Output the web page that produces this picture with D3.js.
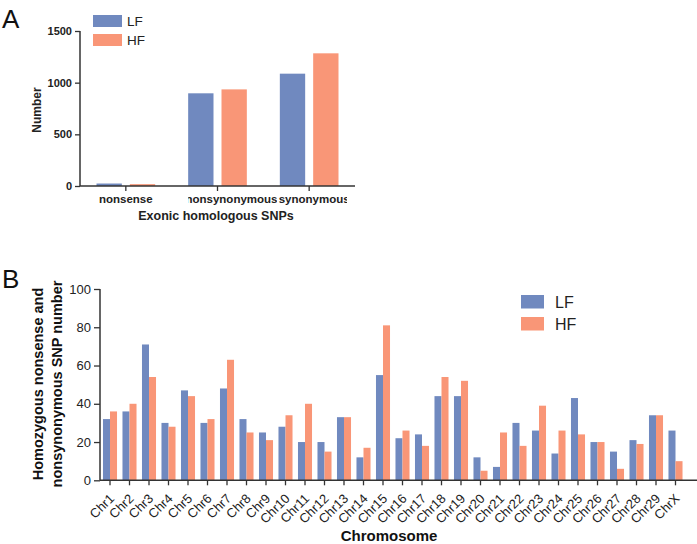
<!DOCTYPE html>
<html><head><meta charset="utf-8">
<script src="https://cdn.jsdelivr.net/npm/d3@7"></script>
<style>body{margin:0;background:#fff}svg{display:block}text{font-family:"Liberation Sans",Arial,sans-serif}</style>
</head><body><svg id="c" width="697" height="544"></svg>
<script>
const series = ["LF", "HF"];
const colors = ["#7089bf", "#f99677"];
// Panel A
const catsA = ["nonsense", "nonsynonymous", "synonymous"];
const lfA = [24, 897, 1087];
const hfA = [18, 935, 1284];
const ticksA = [0, 500, 1000, 1500];
// Panel B
const chrs = ["Chr1","Chr2","Chr3","Chr4","Chr5","Chr6","Chr7","Chr8","Chr9","Chr10","Chr11","Chr12","Chr13","Chr14","Chr15","Chr16","Chr17","Chr18","Chr19","Chr20","Chr21","Chr22","Chr23","Chr24","Chr25","Chr26","Chr27","Chr28","Chr29","ChrX"];
const lfB = [32,36,71,30,47,30,48,32,25,28,20,20,33,12,55,22,24,44,44,12,7,30,26,14,43,20,15,21,34,26];
const hfB = [36,40,54,28,44,32,63,25,21,34,40,15,33,17,81,26,18,54,52,5,25,18,39,26,24,20,6,19,34,10];
const ticksB = [0, 20, 40, 60, 80, 100];

const svg = d3.select("#c");
const axisCol = "#333";

// ---------- Panel A ----------
{
  const g = svg.append("g");
  const x0 = d3.scaleBand().domain(catsA).range([80, 355]);
  const x1 = d3.scaleBand().domain(series).range([x0.bandwidth()*0.18, x0.bandwidth()*0.82]).paddingInner(0.24);
  const y = d3.scaleLinear().domain([0, 1500]).range([186, 31]);
  const vals = [lfA, hfA];
  catsA.forEach((c, i) => {
    series.forEach((s, j) => {
      g.append("rect").attr("x", x0(c) + x1(s)).attr("width", x1.bandwidth())
        .attr("y", y(vals[j][i])).attr("height", y(0) - y(vals[j][i]))
        .attr("fill", colors[j]);
    });
  });
  const ya = g.append("g").attr("transform", "translate(80,0)")
    .call(d3.axisLeft(y).tickValues(ticksA).tickSize(5).tickPadding(3).tickFormat(d3.format("d")));
  ya.select(".domain").attr("stroke", axisCol).attr("stroke-width", 1.5).attr("d", `M0,${y(1500)}V${y(0)}`);
  ya.selectAll(".tick line").attr("stroke", axisCol).attr("stroke-width", 1.3);
  ya.selectAll("text").attr("font-size", 11).attr("font-weight", "bold").attr("fill", "#222").attr("font-family", "Liberation Sans, Arial");
  const xa = g.append("g").attr("transform", "translate(0,186)")
    .call(d3.axisBottom(x0).tickSize(5).tickFormat(""));
  xa.select(".domain").attr("stroke", axisCol).attr("stroke-width", 1.5).attr("d", "M80,0H355");
  xa.selectAll(".tick line").attr("stroke", axisCol).attr("stroke-width", 1.3);
  // category labels (clipped like the original)
  const defs = svg.append("defs");
  const lab = [
    {t: catsA[0], anchor: "middle", dx: 0, clip: null},
    {t: catsA[1], anchor: "end", dx: 60, clip: [188, 277]},
    {t: catsA[2], anchor: "middle", dx: 5, clip: [278, 347]}
  ];
  lab.forEach((l, i) => {
    const cx = x0(catsA[i]) + x0.bandwidth()/2 + l.dx;
    const t = g.append("text").attr("x", cx).attr("y", 202.5).attr("text-anchor", l.anchor)
      .attr("font-size", 11.5).attr("font-weight", "bold").attr("fill", "#222").text(l.t);
    if (l.clip) {
      defs.append("clipPath").attr("id", "cl" + i).append("rect")
        .attr("x", l.clip[0]).attr("y", 190).attr("width", l.clip[1] - l.clip[0]).attr("height", 20);
      t.attr("clip-path", `url(#cl${i})`);
    }
  });
  g.append("text").attr("x", 216).attr("y", 219.5).attr("text-anchor", "middle")
    .attr("font-size", 12.5).attr("font-weight", "bold").attr("fill", "#222").text("Exonic homologous SNPs");
  g.append("text").attr("transform", "translate(41,110) rotate(-90)").attr("text-anchor", "middle")
    .attr("font-size", 12).attr("font-weight", "bold").attr("fill", "#222").text("Number");
  g.append("text").attr("x", 2).attr("y", 28).attr("font-size", 26).attr("fill", "#111").text("A");
  series.forEach((s, j) => {
    g.append("rect").attr("x", 93).attr("y", 15 + j*19).attr("width", 29).attr("height", 12).attr("fill", colors[j]);
    g.append("text").attr("x", 127).attr("y", 26 + j*19).attr("font-size", 13.5).attr("fill", "#222").text(s);
  });
}

// ---------- Panel B ----------
{
  const g = svg.append("g");
  const x0 = d3.scaleBand().domain(chrs).range([100.25, 100.25 + 19.5*30]);
  const x1 = d3.scaleBand().domain(series).range([x0.bandwidth()*0.14, x0.bandwidth()*0.86]);
  const y = d3.scaleLinear().domain([0, 100]).range([480.3, 289]);
  const vals = [lfB, hfB];
  chrs.forEach((c, i) => {
    series.forEach((s, j) => {
      g.append("rect").attr("x", x0(c) + x1(s)).attr("width", x1.bandwidth())
        .attr("y", y(vals[j][i])).attr("height", y(0) - y(vals[j][i]))
        .attr("fill", colors[j]);
    });
  });
  const ya = g.append("g").attr("transform", "translate(100,0)")
    .call(d3.axisLeft(y).tickValues(ticksB).tickSize(6).tickPadding(3));
  ya.select(".domain").attr("stroke", axisCol).attr("stroke-width", 1.5).attr("d", `M0,${y(100)}V${y(0)}`);
  ya.selectAll(".tick line").attr("stroke", axisCol).attr("stroke-width", 1.3);
  ya.selectAll("text").attr("font-size", 13).attr("fill", "#222").attr("font-family", "Liberation Sans, Arial");
  const xa = g.append("g").attr("transform", `translate(0,${y(0)})`)
    .call(d3.axisBottom(x0).tickSize(5).tickPadding(4));
  xa.select(".domain").attr("stroke", axisCol).attr("stroke-width", 1.5).attr("d", "M100,0H697");
  xa.selectAll(".tick line").attr("stroke", axisCol).attr("stroke-width", 1.3);
  xa.selectAll("text").attr("font-size", 13).attr("fill", "#222").attr("font-family", "Liberation Sans, Arial")
    .attr("text-anchor", "end").attr("dy", null).attr("y", 0)
    .attr("transform", "translate(5,19) rotate(-45)");
  g.append("text").attr("x", 389).attr("y", 541).attr("text-anchor", "middle")
    .attr("font-size", 15).attr("font-weight", "bold").attr("fill", "#111").text("Chromosome");
  g.append("text").attr("transform", "translate(43,384) rotate(-90)").attr("text-anchor", "middle")
    .attr("font-size", 14.5).attr("font-weight", "bold").attr("fill", "#111").text("Homozygous nonsense and");
  g.append("text").attr("transform", "translate(62,384) rotate(-90)").attr("text-anchor", "middle")
    .attr("font-size", 14.5).attr("font-weight", "bold").attr("fill", "#111").text("nonsynonymous SNP number");
  g.append("text").attr("x", 2).attr("y", 288).attr("font-size", 26).attr("fill", "#111").text("B");
  series.forEach((s, j) => {
    g.append("rect").attr("x", 521).attr("y", 295 + j*22).attr("width", 23).attr("height", 13.5).attr("fill", colors[j]);
    g.append("text").attr("x", 555).attr("y", 308 + j*22).attr("font-size", 16).attr("fill", "#222").text(s);
  });
}
</script></body></html>
